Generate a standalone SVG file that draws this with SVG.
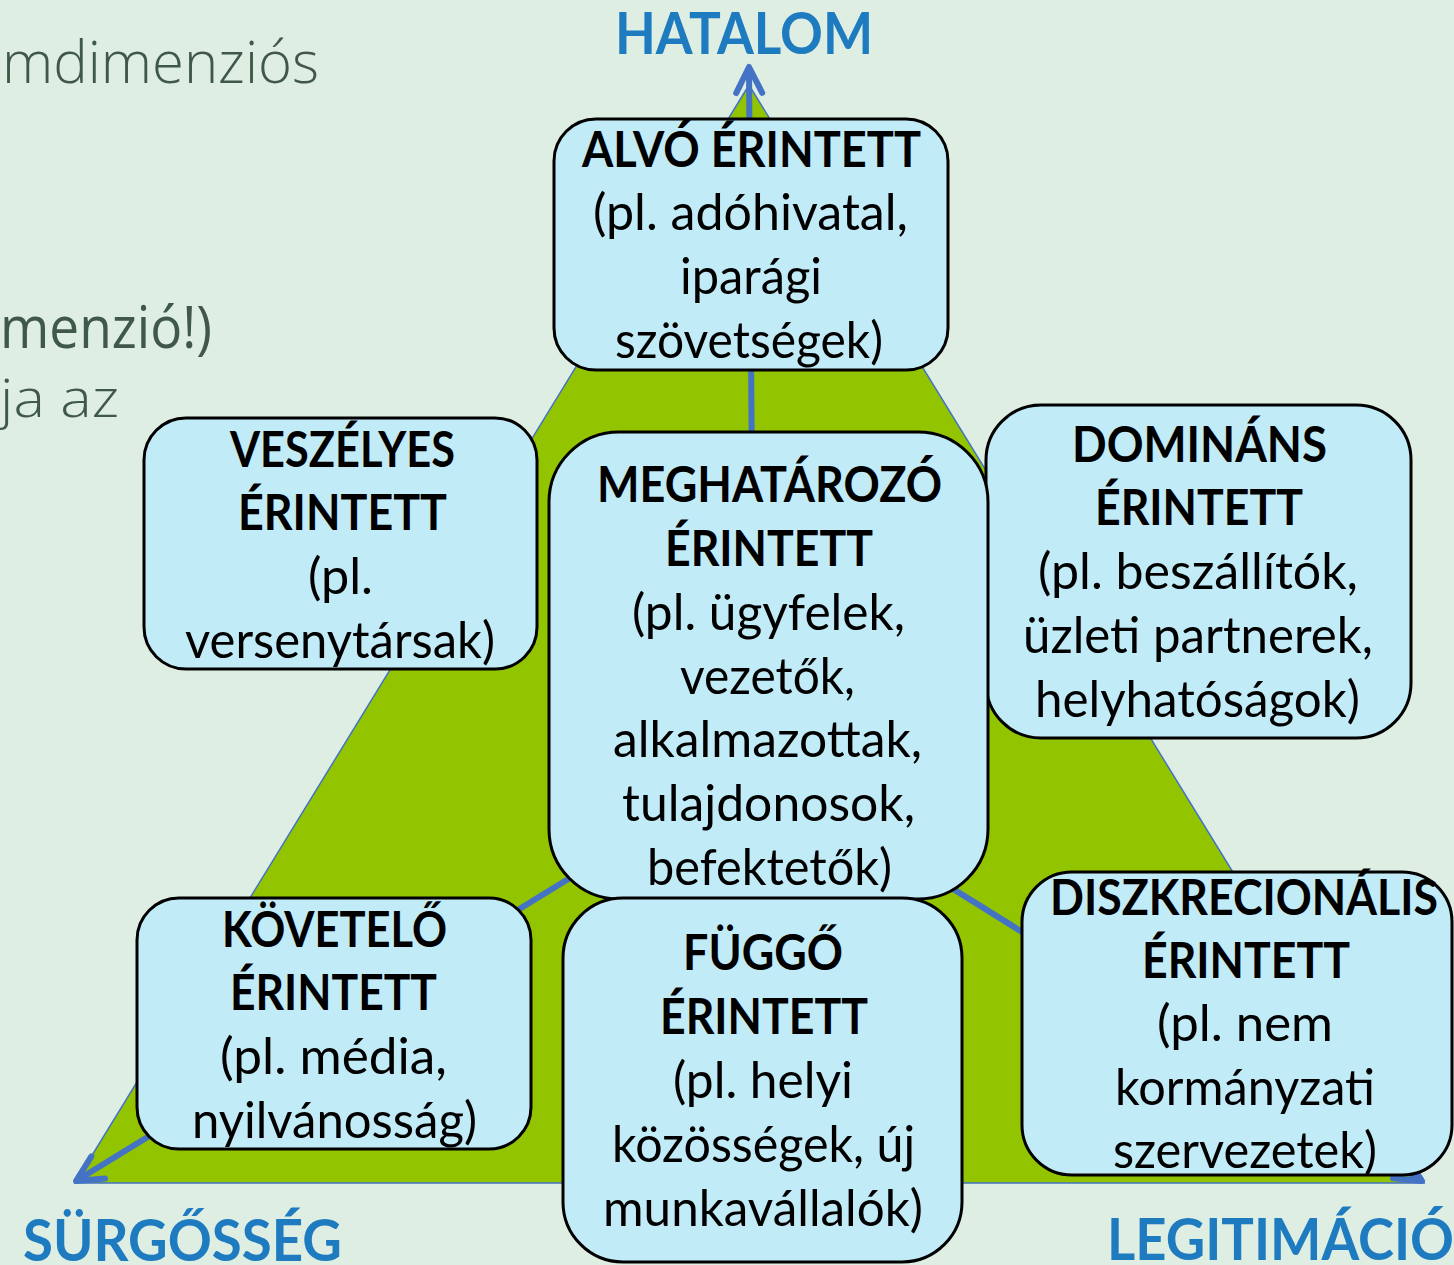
<svg xmlns="http://www.w3.org/2000/svg" width="1454" height="1265" viewBox="0 0 1454 1265">
<defs>
<style>
.bg{fill:#DFEEE3}
.tri{fill:#92C500;stroke:#4472C4;stroke-width:1.5}
.box{fill:#C2EBF8;stroke:#000;stroke-width:3}
.t{font-family:Lato,"Open Sans","Liberation Sans",sans-serif;font-size:50px;fill:#000}
.b{font-weight:bold}
.lab{font-family:Lato,"Open Sans","Liberation Sans",sans-serif;font-size:57px;font-weight:bold;fill:#1E7BC0}
.side{font-family:"Open Sans",Lato,"Liberation Sans",sans-serif;fill:#3F5849}
.conn{fill:none;stroke:#4472C4;stroke-width:6}
</style>
<marker id="ah" markerUnits="userSpaceOnUse" markerWidth="60" markerHeight="60" viewBox="-35 -30 60 60" refX="0" refY="0" orient="auto" overflow="visible">
<path d="M-26,-13 L0,0 L-26,13" fill="none" stroke="#4472C4" stroke-width="6" stroke-linecap="round" stroke-linejoin="round"/>
</marker>
</defs>
<rect class="bg" x="0" y="0" width="1454" height="1265"/>
<g id="background-text">
<text class="side" x="2" y="83" font-size="58" font-weight="300" textLength="317" lengthAdjust="spacingAndGlyphs">mdimenziós</text>
<text class="side" x="0" y="348" font-size="58" textLength="212" lengthAdjust="spacingAndGlyphs">menzió!)</text>
<text class="side" x="0" y="417" font-size="54" font-weight="300" textLength="119" lengthAdjust="spacingAndGlyphs">ja az</text>
</g>
<polygon class="tri" points="749,85 1424,1183 75,1183"/>
<g id="axis-labels">
<text class="lab" x="615" y="54" textLength="258" lengthAdjust="spacingAndGlyphs">HATALOM</text>
<text class="lab" x="23" y="1261" textLength="319" lengthAdjust="spacingAndGlyphs">SÜRGŐSSÉG</text>
<text class="lab" x="1107" y="1260" textLength="347" lengthAdjust="spacingAndGlyphs">LEGITIMÁCIÓ</text>
</g>
<g id="connectors">
<line class="conn" x1="754" y1="765" x2="749" y2="67" marker-end="url(#ah)"/>
<line class="conn" x1="754" y1="765" x2="76" y2="1181" marker-end="url(#ah)"/>
<line class="conn" x1="754" y1="765" x2="1422" y2="1181" marker-end="url(#ah)"/>
</g>
<g id="alvo">
<rect class="box" x="554" y="119" width="394" height="251" rx="42"/>
<text class="t b" x="582" y="167" textLength="339" lengthAdjust="spacingAndGlyphs">ALVÓ ÉRINTETT</text>
<text class="t" x="593" y="230" textLength="315" lengthAdjust="spacingAndGlyphs">(pl. adóhivatal,</text>
<text class="t" x="680" y="294" textLength="142" lengthAdjust="spacingAndGlyphs">iparági</text>
<text class="t" x="615" y="358" textLength="268" lengthAdjust="spacingAndGlyphs">szövetségek)</text>
</g>
<g id="veszelyes">
<rect class="box" x="144" y="418" width="393" height="251" rx="42"/>
<text class="t b" x="230" y="467" textLength="225" lengthAdjust="spacingAndGlyphs">VESZÉLYES</text>
<text class="t b" x="238" y="530" textLength="209" lengthAdjust="spacingAndGlyphs">ÉRINTETT</text>
<text class="t" x="308" y="594" textLength="65" lengthAdjust="spacingAndGlyphs">(pl.</text>
<text class="t" x="185" y="658" textLength="310" lengthAdjust="spacingAndGlyphs">versenytársak)</text>
</g>
<g id="dominans">
<rect class="box" x="986" y="405" width="425" height="333" rx="55"/>
<text class="t b" x="1072" y="462" textLength="255" lengthAdjust="spacingAndGlyphs">DOMINÁNS</text>
<text class="t b" x="1095" y="525" textLength="208" lengthAdjust="spacingAndGlyphs">ÉRINTETT</text>
<text class="t" x="1038" y="589" textLength="320" lengthAdjust="spacingAndGlyphs">(pl. beszállítók,</text>
<text class="t" x="1023" y="653" textLength="350" lengthAdjust="spacingAndGlyphs">üzleti partnerek,</text>
<text class="t" x="1035" y="717" textLength="325" lengthAdjust="spacingAndGlyphs">helyhatóságok)</text>
</g>
<g id="meghatarozo">
<rect class="box" x="549" y="432" width="439" height="467" rx="70"/>
<text class="t b" x="597" y="502" textLength="345" lengthAdjust="spacingAndGlyphs">MEGHATÁROZÓ</text>
<text class="t b" x="665" y="566" textLength="208" lengthAdjust="spacingAndGlyphs">ÉRINTETT</text>
<text class="t" x="632" y="630" textLength="273" lengthAdjust="spacingAndGlyphs">(pl. ügyfelek,</text>
<text class="t" x="680" y="694" textLength="175" lengthAdjust="spacingAndGlyphs">vezetők,</text>
<text class="t" x="613" y="757" textLength="309" lengthAdjust="spacingAndGlyphs">alkalmazottak,</text>
<text class="t" x="622" y="821" textLength="293" lengthAdjust="spacingAndGlyphs">tulajdonosok,</text>
<text class="t" x="647" y="885" textLength="245" lengthAdjust="spacingAndGlyphs">befektetők)</text>
</g>
<g id="kovetelo">
<rect class="box" x="137" y="898" width="394" height="251" rx="42"/>
<text class="t b" x="222" y="947" textLength="225" lengthAdjust="spacingAndGlyphs">KÖVETELŐ</text>
<text class="t b" x="230" y="1010" textLength="207" lengthAdjust="spacingAndGlyphs">ÉRINTETT</text>
<text class="t" x="220" y="1074" textLength="227" lengthAdjust="spacingAndGlyphs">(pl. média,</text>
<text class="t" x="192" y="1138" textLength="285" lengthAdjust="spacingAndGlyphs">nyilvánosság)</text>
</g>
<g id="fuggo">
<rect class="box" x="563" y="898" width="399" height="364" rx="60"/>
<text class="t b" x="683" y="970" textLength="160" lengthAdjust="spacingAndGlyphs">FÜGGŐ</text>
<text class="t b" x="660" y="1034" textLength="208" lengthAdjust="spacingAndGlyphs">ÉRINTETT</text>
<text class="t" x="673" y="1098" textLength="180" lengthAdjust="spacingAndGlyphs">(pl. helyi</text>
<text class="t" x="612" y="1162" textLength="303" lengthAdjust="spacingAndGlyphs">közösségek, új</text>
<text class="t" x="603" y="1226" textLength="320" lengthAdjust="spacingAndGlyphs">munkavállalók)</text>
</g>
<g id="diszkrecionalis">
<rect class="box" x="1022" y="872" width="430" height="303" rx="50"/>
<text class="t b" x="1050" y="915" textLength="388" lengthAdjust="spacingAndGlyphs">DISZKRECIONÁLIS</text>
<text class="t b" x="1142" y="978" textLength="208" lengthAdjust="spacingAndGlyphs">ÉRINTETT</text>
<text class="t" x="1157" y="1041" textLength="176" lengthAdjust="spacingAndGlyphs">(pl. nem</text>
<text class="t" x="1115" y="1105" textLength="260" lengthAdjust="spacingAndGlyphs">kormányzati</text>
<text class="t" x="1113" y="1168" textLength="264" lengthAdjust="spacingAndGlyphs">szervezetek)</text>
</g>
</svg>
